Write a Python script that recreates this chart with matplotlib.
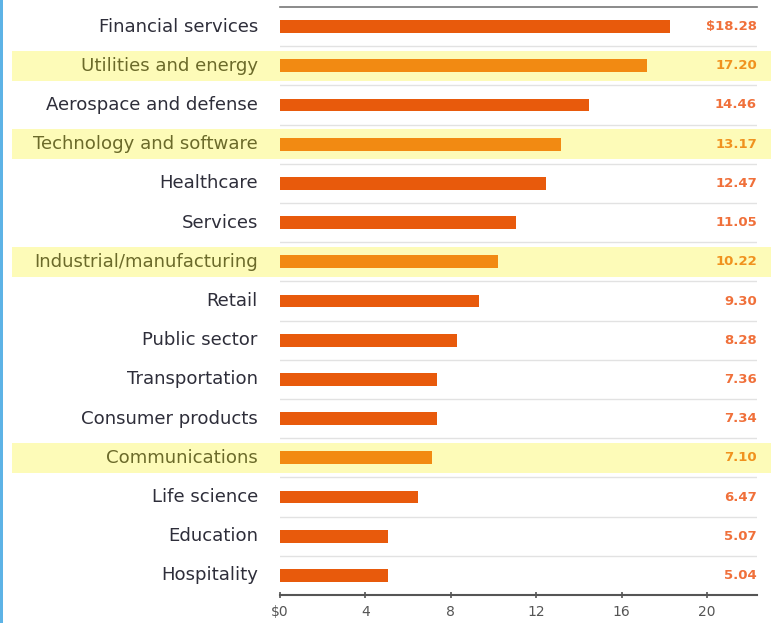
import matplotlib
matplotlib.use("Agg")
import matplotlib.pyplot as plt
import matplotlib.transforms as mtransforms
from matplotlib.patches import Rectangle

categories = ["Financial services", "Utilities and energy", "Aerospace and defense",
              "Technology and software", "Healthcare", "Services",
              "Industrial/manufacturing", "Retail", "Public sector", "Transportation",
              "Consumer products", "Communications", "Life science", "Education", "Hospitality"]
values = [18.28, 17.20, 14.46, 13.17, 12.47, 11.05, 10.22, 9.30, 8.28, 7.36, 7.34, 7.10, 6.47, 5.07, 5.04]
value_labels = ["$18.28", "17.20", "14.46", "13.17", "12.47", "11.05", "10.22", "9.30",
                "8.28", "7.36", "7.34", "7.10", "6.47", "5.07", "5.04"]
highlighted = ["Utilities and energy", "Technology and software",
               "Industrial/manufacturing", "Communications"]
xticks = [0, 4, 8, 12, 16, 20]
xtick_labels = ["$0", "4", "8", "12", "16", "20"]

W, H = 771, 623
fig = plt.figure(figsize=(W / 100, H / 100), dpi=100)
fig.patch.set_facecolor("white")
ax = fig.add_axes([280 / W, 1 - 595 / H, (757 - 280) / W, (595 - 7) / H])

bar_c = "#E85A0C"
bar_hc = "#F28A12"
val_c = "#F0703A"
val_hc = "#F0921E"
lab_c = "#2E2E3A"
lab_hc = "#6B6A2A"

ypos = list(range(len(categories)))
is_h = [c in highlighted for c in categories]

ax.barh(ypos, values, height=0.33, color=[bar_hc if h else bar_c for h in is_h], zorder=3)
ax.set_ylim(len(categories) - 0.5, -0.5)
ax.set_xlim(0, 22.34)

trans_band = mtransforms.blended_transform_factory(fig.transFigure, ax.transData)
for y, h in zip(ypos, is_h):
    if h:
        r = Rectangle((12 / W, y - 0.38), (W - 12) / W, 0.76, transform=trans_band,
                      facecolor="#FDFBB8", edgecolor="none", zorder=0, clip_on=False)
        ax.add_patch(r)

for y in ypos[:-1]:
    ax.axhline(y + 0.5, color="#E2E2E2", lw=1, zorder=1)

trans_val = mtransforms.blended_transform_factory(ax.transAxes, ax.transData)
for y, lab, h in zip(ypos, value_labels, is_h):
    ax.text(1.0, y, lab, transform=trans_val, ha="right", va="center",
            fontsize=9.5, fontweight="bold", color=val_hc if h else val_c, zorder=4)

ax.set_yticks(ypos)
ax.set_yticklabels(categories, fontsize=13.1)
for t, h in zip(ax.get_yticklabels(), is_h):
    t.set_color(lab_hc if h else lab_c)
    t.set_verticalalignment("center")
ax.tick_params(axis="y", length=0, pad=16)

ax.set_xticks(xticks)
ax.set_xticklabels(xtick_labels, fontsize=10, color="#555555")
ax.tick_params(axis="x", direction="inout", length=5, width=1.2, color="#555555", pad=5)

for s in ["left", "right"]:
    ax.spines[s].set_visible(False)
ax.spines["top"].set_color("#777777")
ax.spines["top"].set_linewidth(1.2)
ax.spines["bottom"].set_color("#555555")
ax.spines["bottom"].set_linewidth(1.5)
ax.patch.set_alpha(0)

fig.patches.append(Rectangle((0, 0), 3 / W, 1, transform=fig.transFigure,
                             facecolor="#5DB3E6", edgecolor="none", zorder=5))

fig.savefig("out.png", dpi=100)
